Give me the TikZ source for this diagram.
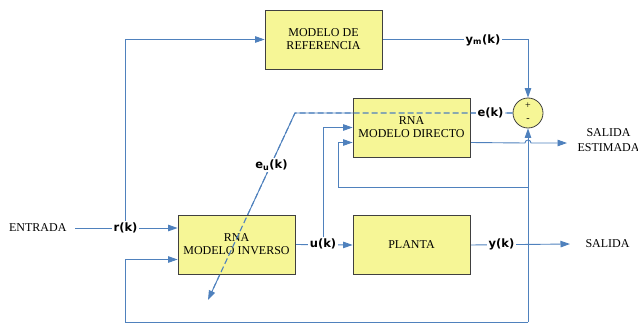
\documentclass[tikz,border=0pt]{standalone}
\usepackage{fontspec}
\setmainfont{Liberation Serif}
\newfontfamily\etiqfont{DejaVu Sans}
\usetikzlibrary{positioning,backgrounds,arrows.meta}

\definecolor{flujo}{RGB}{79,129,189}
\definecolor{amarillo}{RGB}{246,246,150}
\definecolor{borde}{RGB}{64,64,64}

\tikzset{
  caja/.style={draw=borde, fill=amarillo, line width=0.8pt,
    minimum width=117pt, minimum height=59pt, align=center,
    font=\fontsize{12}{13}\selectfont},
  sumador/.style={circle, draw=borde, fill=amarillo, line width=0.8pt,
    minimum size=30pt, inner sep=0pt},
  signo/.style={inner sep=0pt, font=\fontsize{10}{10}\selectfont},
  texto/.style={align=center, font=\fontsize{12}{15}\selectfont},
  senal/.style={draw=flujo, line width=0.9pt},
  flecha/.style={senal, -{Triangle[length=9.5pt,width=6.5pt]}},
  etiq/.style={fill=white, inner sep=2pt,
    font=\etiqfont\bfseries\fontsize{11.5}{12}\selectfont}
}

\begin{document}
\begin{tikzpicture}[x=1pt,y=-1pt]
\useasboundingbox (0,0) rectangle (638,324);

% bloques
\node[caja] (ref) at (323.5,39.5) {MODELO DE\\REFERENCIA};
\node[caja] (dir) at (411.5,127.5) {RNA\\MODELO DIRECTO};
\node[caja] (inv) at (236.5,244.5) {RNA\\MODELO INVERSO};
\node[caja] (planta) at (411.5,245) {PLANTA};
\node[sumador] (sum) at (528,113) {};
\node[signo] (mas) at (528,106) {+};
\node[signo] (menos) at (528,120) {-};

% puntos de paso
\coordinate (entin) at (75,228);
\coordinate (bl) at (125,322);
\coordinate (br) at (528,322);
\coordinate (fbD) at (338,187);
\coordinate (ecorner) at (295,113);
\coordinate (etip) at (208,300);
\coordinate (outest) at (567,143);
\coordinate (outy) at (570,244);

% entrada y salidas
\node[texto, left=5pt of entin] (entrada) {ENTRADA};
\node[texto, right=12pt of outy] (salida) {SALIDA};
\node[texto, right=7pt of outest, yshift=2.5pt] (salidaest) {SALIDA\\ESTIMADA};

% error de entrenamiento, punteado sobre los bloques
\draw[senal, line width=1.1pt, dash pattern=on 6pt off 3pt, shorten >=9pt]
  (sum.west) -- (ecorner) -- (etip);

% etiquetas de las senales
\node[etiq] (rk) at (125.5,228) {r(k)};
\node[etiq] (uk) at (323,244) {u(k)};
\node[etiq] (yk) at (501.5,244) {y(k)};
\node[etiq] (ymk) at (483,40) {y\textsubscript{m}(k)};
\node[etiq] (ek) at (490.5,113) {e(k)};
\node[etiq] (euk) at (271.5,165) {e\textsubscript{u}(k)};

\begin{pgfonlayer}{background}
  % referencia
  \draw[flecha] (entin) -- (inv.west |- entin);
  \draw[flecha] (rk.north) |- (ref.west);
  \draw[flecha] (ref.east) -| (sum.north);
  % planta y modelo directo
  \draw[flecha] (inv.east) -- (planta.west);
  \draw[flecha] (uk.north) |- (dir.west);
  \draw[flecha] (planta.east) -- (outy);
  \draw[flecha] ([yshift=-15pt]dir.east)
    -- ([xshift=-3pt]sum.south |- outest)
    arc[start angle=180, end angle=0, radius=3pt] -- (outest);
  % realimentacion
  \draw[flecha] (br) -- (sum.south);
  \draw[flecha] (br) -- (bl) |- ([yshift=-15pt]inv.west);
  \draw[flecha] (sum.south |- fbD) -- (fbD) |- ([yshift=-15pt]dir.west);
  % error
  \draw[flecha] (sum.west) -- (ecorner) -- (etip);
\end{pgfonlayer}
\end{tikzpicture}
\end{document}
